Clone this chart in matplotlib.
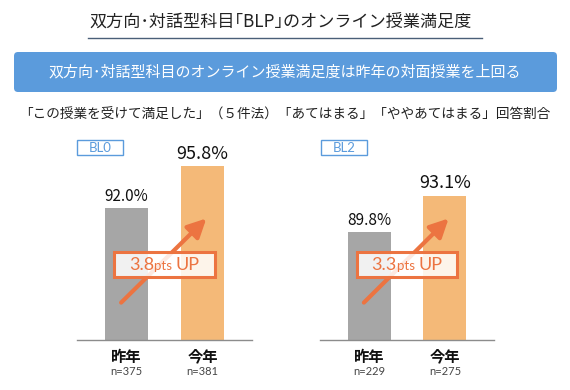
import matplotlib.pyplot as plt
from matplotlib.patches import FancyBboxPatch, Rectangle
from matplotlib.offsetbox import TextArea, HPacker, AnnotationBbox

plt.rcParams['font.family'] = ['Noto Sans CJK JP', 'DejaVu Sans']

title = '双方向･対話型科目｢BLP｣のオンライン授業満足度'
headline = '双方向･対話型科目のオンライン授業満足度は昨年の対面授業を上回る'
subtitle = '「この授業を受けて満足した」（５件法）「あてはまる」「ややあてはまる」回答割合'

groups = ['BL0', 'BL2']
years = ['昨年', '今年']
last_year = [92.0, 89.8]
this_year = [95.8, 93.1]
n_last = [375, 229]
n_this = [381, 275]

gray = '#a6a6a6'
orange = '#f4b978'
arrow_c = '#ec7441'
blue = '#5b9bdc'

fig = plt.figure(figsize=(5.7, 3.9), dpi=100)

# header drawn in pixel coordinates
bg = fig.add_axes([0, 0, 1, 1])
bg.set_xlim(0, 570)
bg.set_ylim(390, 0)
bg.axis('off')

bg.text(281, 22, title, ha='center', va='center', fontsize=12.3, color='#222222')
bg.plot([88, 482], [38, 38], color='#4a5f78', lw=1)
bg.add_patch(FancyBboxPatch((14, 52), 543, 40, boxstyle='round,pad=0,rounding_size=4',
                            fc=blue, ec='none'))
bg.text(285, 72, headline, ha='center', va='center', fontsize=10.8, color='white')
bg.text(285, 115, subtitle, ha='center', va='center', fontsize=9.8, color='#222222')

for left, name in zip([77, 321], groups):
    bg.add_patch(Rectangle((left, 140), 46, 15, fill=False, ec=blue, lw=1))
    bg.text(left + 23, 147.5, name, ha='center', va='center', fontsize=9.5,
            color=blue, family='Lato')

axes_px = [(77, 175), (320, 174)]
for i, (x0, w) in enumerate(axes_px):
    ax = fig.add_axes([x0 / 570, 50 / 390, w / 570, 200 / 390])
    ax.patch.set_alpha(0)
    vals = [last_year[i], this_year[i]]
    ax.bar([0, 1], vals, width=0.57, color=[gray, orange], zorder=1)
    ax.set_xlim(-0.65, 1.65)
    ax.set_ylim(80, 80 + 200 / 11)
    for s in ['top', 'right', 'left']:
        ax.spines[s].set_visible(False)
    ax.spines['bottom'].set_color('#8c8c8c')
    ax.spines['bottom'].set_linewidth(1)
    ax.set_xticks([])
    ax.set_yticks([])

    for x, v, fs in zip([0, 1], vals, [11, 13]):
        ax.annotate(f'{v:.1f}%', (x, v), xytext=(0, 2.5), textcoords='offset points',
                    ha='center', va='bottom', fontsize=fs, color='#111111')

    for x, lab, n in zip([0, 1], years, [n_last[i], n_this[i]]):
        ax.annotate(lab, (x, 0), xycoords=('data', 'axes fraction'), xytext=(0, -12),
                    textcoords='offset points', ha='center', va='center',
                    fontsize=11, fontweight='bold', color='#111111')
        ax.annotate(f'n={n}', (x, 0), xycoords=('data', 'axes fraction'), xytext=(0, -23),
                    textcoords='offset points', ha='center', va='center',
                    fontsize=8, color='#444444', family='Lato')

    # rising arrow behind the "pts UP" box
    ax.annotate('', xy=(1.05, 91.05), xytext=(-0.07, 83.4),
                arrowprops=dict(arrowstyle='-|>,head_length=0.8,head_width=0.4',
                                mutation_scale=14, color=arrow_c, lw=3, shrinkA=0, shrinkB=0),
                zorder=2)
    ax.add_patch(Rectangle((-0.16, 85.7), 1.32, 2.3, fc='white', alpha=0.85,
                           ec='none', zorder=3))
    ax.add_patch(Rectangle((-0.16, 85.7), 1.32, 2.3, fill=False, ec=arrow_c,
                           lw=2.2, zorder=4))
    diff = this_year[i] - last_year[i]
    parts = [TextArea(f'{diff:.1f}', textprops=dict(fontsize=13, color=arrow_c, family='Lato')),
             TextArea('pts ', textprops=dict(fontsize=9.5, color=arrow_c, family='Lato')),
             TextArea('UP', textprops=dict(fontsize=13, color=arrow_c, family='Lato'))]
    pack = HPacker(children=parts, align='baseline', pad=0, sep=0)
    ab = AnnotationBbox(pack, (0.5, 86.85), frameon=False, zorder=5)
    ax.add_artist(ab)

fig.savefig('out.png', dpi=100)
